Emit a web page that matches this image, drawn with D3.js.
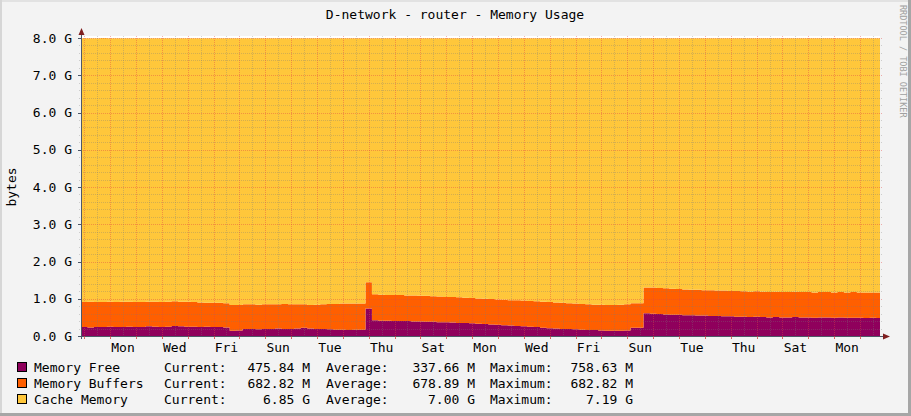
<!DOCTYPE html>
<html><head><meta charset="utf-8">
<script src="https://cdn.jsdelivr.net/npm/d3@7"></script>
<style>
html,body{margin:0;padding:0;background:#F3F3F3;}
svg{display:block;}
text{font-family:"DejaVu Sans Mono",monospace;}
</style>
</head><body>
<svg id="chart" width="911" height="416"></svg>
<script>
// ---------------- data ----------------
const chartTitle = "D-network - router - Memory Usage";
const yAxisTitle = "bytes";
const credit = "RRDTOOL / TOBI OETIKER";
const yTickValues = [0, 1, 2, 3, 4, 5, 6, 7, 8];
const yTickLabels = ["0.0 G", "1.0 G", "2.0 G", "3.0 G", "4.0 G", "5.0 G", "6.0 G", "7.0 G", "8.0 G"];
const seriesNames = ["Memory Free", "Memory Buffers", "Cache Memory"];
const seriesColors = ["#8F005C", "#FF5F00", "#FFC73B"];
const legendCurrent = ["475.84 M", "682.82 M", "6.85 G"];
const legendAverage = ["337.66 M", "678.89 M", "7.00 G"];
const legendMaximum = ["758.63 M", "682.82 M", "7.19 G"];
const startTime = Date.UTC(2013, 5, 1, 21, 0);   // Sat 21:00
const endTime = Date.UTC(2013, 6, 2, 18, 30);    // Tue 18:30
const stepHours = 6;
// values in G, one sample every 6 hours
const memoryFree = [
 0.24,0.23,0.24,0.24,0.25,0.24,0.24,0.25,0.24,0.24,0.26,0.25,0.24,0.25,0.27,0.26,0.25,0.25,0.24,0.25,0.24,0.24,
 0.23,0.14,0.15,
 0.19,0.19,0.18,0.19,0.19,0.20,0.19,0.19,0.20,0.22,0.20,0.19,0.19,0.18,0.17,0.17,0.16,0.17,
 0.17,0.74,0.42,0.41,0.41,0.40,0.40,0.40,0.39,0.39,0.38,0.38,0.37,0.37,0.36,0.35,0.35,0.34,0.33,
 0.32,0.31,0.30,0.29,0.28,0.27,0.26,0.25,0.24,0.22,0.21,0.20,0.19,0.19,0.18,0.17,0.16,0.16,0.15,
 0.14,0.14,0.14,0.15,0.22,0.22,0.61,0.60,0.59,0.58,0.57,0.57,0.56,0.56,0.55,0.55,0.54,0.54,0.53,0.53,
 0.52,0.52,0.51,0.52,0.51,0.50,0.51,0.50,0.50,0.51,0.50,0.50,0.49,0.50,0.50,0.49,0.50,0.49,0.49,0.49,0.48,0.49,0.48
];
const memoryBuffers = [
 0.67,0.69,0.67,0.67,0.67,0.67,0.68,0.67,0.67,0.67,0.66,0.67,0.67,0.67,0.66,0.66,0.67,0.66,0.66,0.64,0.65,0.65,
 0.65,0.69,0.68,
 0.66,0.66,0.66,0.66,0.66,0.65,0.67,0.66,0.65,0.63,0.63,0.65,0.66,0.68,0.69,0.70,0.71,0.70,
 0.70,0.70,0.70,0.70,0.69,0.70,0.70,0.69,0.70,0.69,0.70,0.69,0.69,0.68,0.69,0.69,0.68,0.68,0.68,
 0.68,0.68,0.68,0.68,0.68,0.69,0.69,0.69,0.69,0.70,0.70,0.70,0.70,0.69,0.69,0.69,0.69,0.68,0.69,
 0.69,0.69,0.70,0.70,0.66,0.66,0.69,0.70,0.70,0.70,0.70,0.69,0.69,0.68,0.69,0.68,0.69,0.68,0.69,0.68,
 0.69,0.68,0.68,0.68,0.68,0.68,0.68,0.68,0.68,0.68,0.68,0.68,0.68,0.68,0.68,0.68,0.68,0.68,0.69,0.68,0.69,0.68,0.69
];
const cacheMemory = [
 7.08,7.07,7.08,7.09,7.07,7.08,7.07,7.07,7.08,7.08,7.07,7.07,7.08,7.07,7.06,7.07,7.07,7.08,7.09,7.10,7.10,7.10,
 7.11,7.16,7.16,
 7.14,7.14,7.15,7.14,7.14,7.14,7.13,7.14,7.14,7.14,7.16,7.15,7.14,7.13,7.13,7.12,7.12,7.12,
 7.12,6.55,6.87,6.88,6.89,6.89,6.89,6.90,6.90,6.91,6.91,6.92,6.93,6.94,6.94,6.95,6.96,6.97,6.98,
 6.99,7.00,7.01,7.02,7.03,7.03,7.04,7.05,7.06,7.07,7.08,7.09,7.10,7.11,7.12,7.13,7.14,7.15,7.15,
 7.16,7.16,7.15,7.14,7.11,7.11,6.69,6.69,6.70,6.71,6.72,6.73,6.74,6.75,6.75,6.76,6.76,6.77,6.77,6.78,
 6.78,6.79,6.80,6.79,6.80,6.81,6.80,6.81,6.81,6.80,6.81,6.81,6.82,6.81,6.81,6.82,6.81,6.82,6.81,6.82,6.82,6.82,6.82
];

// ---------------- layout ----------------
const W = 911, H = 416;
const plot = {left: 81, right: 880, top: 38, bottom: 336};
const svg = d3.select("#chart");

const x = d3.scaleUtc().domain([new Date(startTime), new Date(endTime)]).range([plot.left, plot.right]);
const y = d3.scaleLinear().domain([0, 8]).range([plot.bottom, plot.top]);

// background + 3D border
svg.append("rect").attr("width", W).attr("height", H).attr("fill", "#F3F3F3");
svg.append("rect").attr("x", 0).attr("y", 0).attr("width", W).attr("height", 2).attr("fill", "#E2E2E2");
svg.append("rect").attr("x", 0).attr("y", 0).attr("width", 2).attr("height", H).attr("fill", "#D6D6D6");
svg.append("rect").attr("x", W - 3).attr("y", 0).attr("width", 3).attr("height", H).attr("fill", "#A6A6A6");
svg.append("rect").attr("x", 0).attr("y", H - 3).attr("width", W).attr("height", 3).attr("fill", "#A6A6A6");

// canvas
svg.append("rect").attr("x", plot.left).attr("y", plot.top - 2)
  .attr("width", plot.right - plot.left).attr("height", plot.bottom - plot.top + 2).attr("fill", "#FFFFFF");

// stacked data
const rows = memoryFree.map((v, i) => ({
  t: new Date(startTime + i * stepHours * 3600e3),
  free: v, buffers: memoryBuffers[i], cache: cacheMemory[i]
}));
rows.push(Object.assign({}, rows[rows.length - 1], {t: new Date(endTime)}));
const keys = ["free", "buffers", "cache"];
const stack = d3.stack().keys(keys)(rows);
const area = d3.area()
  .curve(d3.curveStepAfter)
  .x(d => x(d.data.t))
  .y0(d => y(d[0]))
  .y1(d => y(d[1]));
svg.append("g").selectAll("path").data(stack).join("path")
  .attr("d", area)
  .attr("fill", (d, i) => seriesColors[i]);

// grid (drawn on top, rrdtool style)
const gMinor = "rgba(120,120,120,0.32)";
const gMajor = "rgba(225,70,70,0.42)";
const grid = svg.append("g").attr("shape-rendering", "crispEdges");
const minorY = d3.range(1, 40).map(k => k * 0.2).filter(v => Math.abs(v - Math.round(v)) > 1e-6);
grid.selectAll(".hmin").data(minorY).join("line")
  .attr("x1", plot.left - 2).attr("x2", plot.right + 2)
  .attr("y1", d => Math.round(y(d)) + 0.5).attr("y2", d => Math.round(y(d)) + 0.5)
  .attr("stroke", gMinor).attr("stroke-dasharray", "1,1");
grid.selectAll(".hmaj").data(yTickValues.slice(1)).join("line")
  .attr("x1", plot.left - 2).attr("x2", plot.right + 2)
  .attr("y1", d => Math.round(y(d)) + 0.5).attr("y2", d => Math.round(y(d)) + 0.5)
  .attr("stroke", gMajor).attr("stroke-dasharray", "1,1");

const x0 = new Date(startTime), x1 = new Date(endTime);
const dayLines = d3.utcDay.range(d3.utcDay.ceil(x0), x1);
const halfDayLines = d3.utcHour.every(12).range(x0, x1).filter(d => d.getUTCHours() !== 0);
grid.selectAll(".vmin").data(halfDayLines).join("line")
  .attr("x1", d => Math.round(x(d)) + 0.5).attr("x2", d => Math.round(x(d)) + 0.5)
  .attr("y1", plot.top - 2).attr("y2", plot.bottom + 2)
  .attr("stroke", gMinor).attr("stroke-dasharray", "1,1");
grid.selectAll(".vmaj").data(dayLines).join("line")
  .attr("x1", d => Math.round(x(d)) + 0.5).attr("x2", d => Math.round(x(d)) + 0.5)
  .attr("y1", plot.top - 2).attr("y2", plot.bottom + 3)
  .attr("stroke", gMajor).attr("stroke-dasharray", "1,1");

// axes
const axisColor = "#4E5868";
const arrowColor = "#7F1F1F";
const ax = svg.append("g").attr("shape-rendering", "crispEdges");
ax.append("line").attr("x1", plot.left + 0.5).attr("x2", plot.left + 0.5)
  .attr("y1", plot.bottom + 3).attr("y2", plot.top - 4).attr("stroke", axisColor);
ax.append("line").attr("x1", plot.left - 3).attr("x2", plot.right + 5)
  .attr("y1", plot.bottom + 0.5).attr("y2", plot.bottom + 0.5).attr("stroke", axisColor);
ax.selectAll(".ytick").data(yTickValues).join("line")
  .attr("x1", plot.left - 3).attr("x2", plot.left)
  .attr("y1", d => Math.round(y(d)) + 0.5).attr("y2", d => Math.round(y(d)) + 0.5)
  .attr("stroke", axisColor);
ax.selectAll(".xtick").data(dayLines).join("line")
  .attr("x1", d => Math.round(x(d)) + 0.5).attr("x2", d => Math.round(x(d)) + 0.5)
  .attr("y1", plot.bottom).attr("y2", plot.bottom + 3)
  .attr("stroke", "rgba(210,60,60,0.7)");
svg.append("path")
  .attr("d", `M${plot.left + 0.5},${plot.top - 10} L${plot.left + 3.5},${plot.top - 3} L${plot.left - 2.5},${plot.top - 3} Z`)
  .attr("fill", arrowColor);
svg.append("path")
  .attr("d", `M${plot.right + 10},${plot.bottom + 0.5} L${plot.right + 3},${plot.bottom - 2.5} L${plot.right + 3},${plot.bottom + 3.5} Z`)
  .attr("fill", arrowColor);

// y labels
svg.append("g").selectAll("text").data(yTickValues).join("text")
  .attr("x", 72).attr("y", d => y(d) + 4.5)
  .attr("text-anchor", "end").attr("font-size", "13px").attr("fill", "#000")
  .text((d, i) => yTickLabels[i]);

// x labels: weekday names every second day, centred on noon
const firstMonday = d3.utcMonday.ceil(x0);
const labelDays = d3.utcDay.range(d3.utcDay.floor(x0), x1)
  .filter(d => Math.round((d - firstMonday) / 864e5) % 2 === 0)
  .map(d => new Date(+d + 12 * 3600e3))
  .filter(d => d > x0 && d < x1);
svg.append("g").selectAll("text").data(labelDays).join("text")
  .attr("x", d => x(d)).attr("y", 352)
  .attr("text-anchor", "middle").attr("font-size", "13px").attr("fill", "#000")
  .text(d => d3.utcFormat("%a")(d));

// titles
svg.append("text").attr("x", 455).attr("y", 19).attr("text-anchor", "middle")
  .attr("font-size", "13px").attr("fill", "#000").text(chartTitle);
svg.append("text").attr("transform", "translate(16,187) rotate(-90)")
  .attr("text-anchor", "middle").attr("font-size", "13px").attr("fill", "#000").text(yAxisTitle);
svg.append("text").attr("transform", "translate(900,5) rotate(90)")
  .attr("text-anchor", "start").attr("font-size", "8.5px").attr("fill", "#A0A0A0").text(credit);

// legend
const legendY = [372, 388, 404];
const lg = svg.append("g");
seriesNames.forEach((name, i) => {
  const yy = legendY[i];
  lg.append("rect").attr("x", 17.5).attr("y", yy - 9.5).attr("width", 9).attr("height", 9)
    .attr("fill", seriesColors[i]).attr("stroke", "#000").attr("stroke-width", 1);
  const t = (xx, s, anchor) => lg.append("text").attr("x", xx).attr("y", yy)
    .attr("text-anchor", anchor).attr("font-size", "13px").attr("fill", "#000").text(s);
  t(34, name, "start");
  t(164, "Current:", "start");
  t(310, legendCurrent[i], "end");
  t(326, "Average:", "start");
  t(475, legendAverage[i], "end");
  t(490, "Maximum:", "start");
  t(633, legendMaximum[i], "end");
});
</script>
</body></html>
